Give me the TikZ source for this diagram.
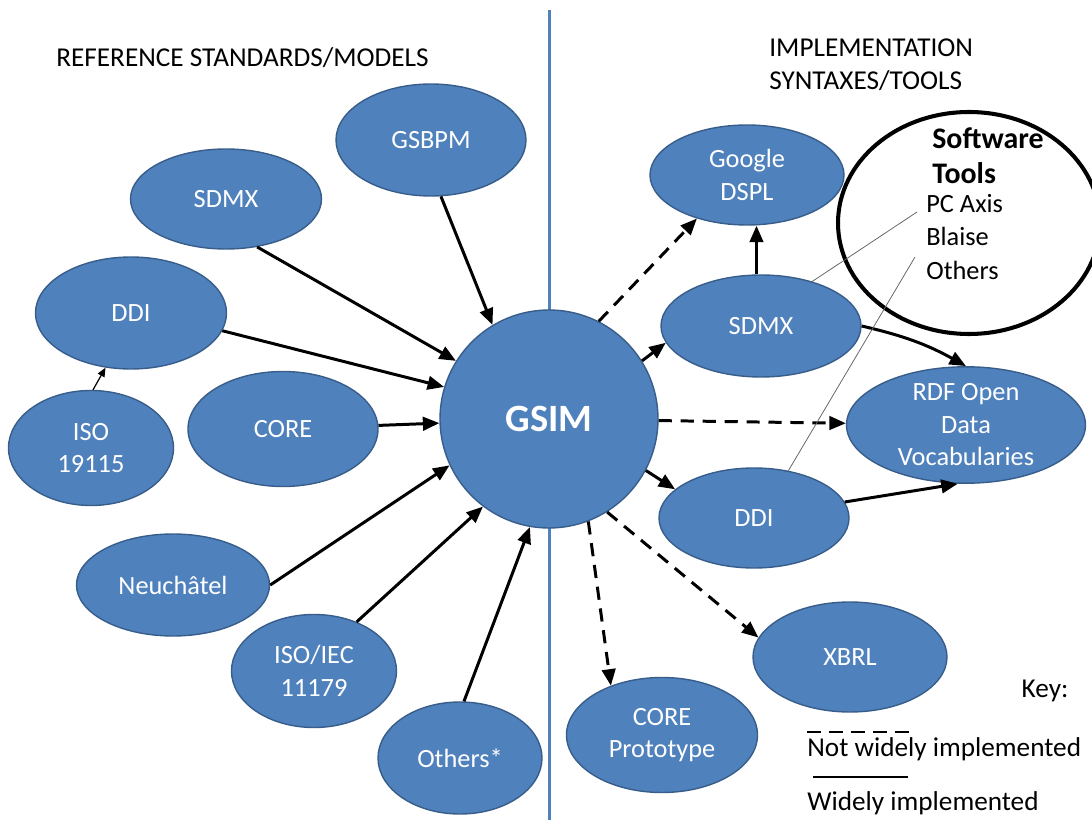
\documentclass[tikz,border=0pt]{standalone}
\usepackage{fontspec}
\setmainfont{Carlito}
\usetikzlibrary{arrows.meta,shapes.geometric}
\definecolor{stdfill}{HTML}{4F81BD}
\definecolor{stdline}{HTML}{385D8A}

\begin{document}
\begin{tikzpicture}[x=0.02cm, y=-0.02cm,
  stdbox/.style={ellipse, fill=stdfill, draw=stdline, thick, inner sep=0pt, align=center, text=white, font=\fontsize{15}{18.5}\selectfont},
  arrow/.style={-{Triangle[length=3.3mm, width=2.7mm]}, line width=1.7pt, draw=black},
  dasharrow/.style={arrow, dash pattern=on 7.5pt off 5pt},
  thinarrow/.style={-{Triangle[length=1.8mm, width=1.5mm]}, line width=0.7pt},
  pointer/.style={draw=black!60, line width=0.45pt},
  heading/.style={font=\fontsize{15.5}{19.3}\selectfont, align=left, inner sep=0pt},
  keytext/.style={font=\fontsize{15.5}{18}\selectfont, inner sep=0pt}
]
\useasboundingbox (0,0) rectangle (1092,820);

% dividing line
\draw[stdfill, line width=1.7pt] (549,10) -- (549,820);

% headings
\node[heading, anchor=west] (lefthead) at (56,58) {REFERENCE STANDARDS/MODELS};
\node[heading, anchor=north west] (righthead) at (769,38) {IMPLEMENTATION\\SYNTAXES/TOOLS};

% centre
\node[circle, fill=stdfill, draw=stdline, thick, minimum size=218*0.02cm, text=white, font=\fontsize{22}{24}\selectfont\bfseries] (gsim) at (549,419) {GSIM};

% reference standards / models
\node[stdbox, minimum width=190*0.02cm, minimum height=112*0.02cm] (gsbpm) at (431,140) {GSBPM};
\node[stdbox, minimum width=191*0.02cm, minimum height=100*0.02cm] (sdmxl) at (226,199) {SDMX};
\node[stdbox, minimum width=191*0.02cm, minimum height=112*0.02cm] (ddil) at (131,313) {DDI};
\node[stdbox, minimum width=165*0.02cm, minimum height=115*0.02cm] (iso) at (91,448) {ISO\\19115};
\node[stdbox, minimum width=190*0.02cm, minimum height=115*0.02cm] (corel) at (283,429) {CORE};
\node[stdbox, minimum width=193*0.02cm, minimum height=102*0.02cm] (neuch) at (173,585) {Neuchâtel};
\node[stdbox, minimum width=165*0.02cm, minimum height=113*0.02cm] (isoiec) at (314,671) {ISO/IEC\\11179};
\node[stdbox, minimum width=164*0.02cm, minimum height=112*0.02cm] (othersl) at (460,758) {Others*};

% implementation syntaxes / tools
\node[stdbox, minimum width=194*0.02cm, minimum height=100*0.02cm] (dspl) at (747,175) {Google\\DSPL};
\node[stdbox, minimum width=200*0.02cm, minimum height=102*0.02cm] (sdmxr) at (761,326) {SDMX};
\node[stdbox, minimum width=239*0.02cm, minimum height=113*0.02cm] (rdf) at (966,425) {RDF Open\\Data\\Vocabularies};
\node[stdbox, minimum width=190*0.02cm, minimum height=100*0.02cm] (ddir) at (754,518) {DDI};
\node[stdbox, minimum width=194*0.02cm, minimum height=110*0.02cm] (xbrl) at (850,657) {XBRL};
\node[stdbox, minimum width=191*0.02cm, minimum height=115*0.02cm] (corep) at (662,735) {CORE\\Prototype};

% software tools
\node[ellipse, draw=black, line width=2.3pt, minimum width=262*0.02cm, minimum height=222*0.02cm] (tools) at (969,223) {};
\node[anchor=north west, align=left, inner sep=0pt, font=\fontsize{17}{20}\selectfont\bfseries] (toolshead) at (932,127) {Software\\Tools};
\node[anchor=north west, align=left, inner sep=0pt, font=\fontsize{15}{19}\selectfont] (toolslist) at (926,194) {PC Axis\\Blaise\\Others};
\coordinate (pcaxis) at (917,212);
\coordinate (blaise) at (915,257);

% arrows into GSIM
\draw[arrow] (sdmxl.-57) -- (gsim.148);
\draw[arrow] (gsbpm.-80) -- (gsim.121);
\draw[arrow] (ddil.-11) -- (gsim.163);
\draw[arrow] (corel) -- (gsim);
\draw[arrow] (neuch.east) -- (gsim.-155);
\draw[arrow] (isoiec.49) -- (gsim.-127);
\draw[arrow] (othersl.86) -- (gsim.-100);
\draw[thinarrow] (iso.88) -- (ddil.-115);

% arrows out of GSIM
\draw[dasharrow] (gsim.63) -- (dspl.-139);
\draw[arrow] (gsim.32) -- (sdmxr.190);
\draw[dasharrow] (gsim) -- (rdf);
\draw[arrow] (gsim.-28) -- (ddir.160);
\draw[dasharrow] (gsim.-58) -- (xbrl.168);
\draw[dasharrow] (gsim.-69) -- (corep.136);
\draw[arrow] (sdmxr.95) -- (sdmxr.95 |- dspl.south);
\draw[arrow] (sdmxr.east) to[bend left=8] (rdf.north);
\draw[arrow] (ddir.10) -- (rdf.-98);

% pointers to tools
\draw[pointer] (sdmxr.41) -- (pcaxis);
\draw[pointer] (ddir.54) -- (blaise);

% key
\node[keytext] (keytitle) at (1045,691) {Key:};
\node[keytext, anchor=west] (keynot) at (807,749) {Not widely implemented};
\node[keytext, anchor=west] (keywide) at (807,803) {Widely implemented};
\draw[line width=1.6pt, dash pattern=on 8pt off 4.5pt] (keynot.north west) ++(0,-5) -- ++(108,0);
\draw[line width=1.6pt] (keywide.north west) ++(6,-14) -- ++(95,0);
\end{tikzpicture}
\end{document}
